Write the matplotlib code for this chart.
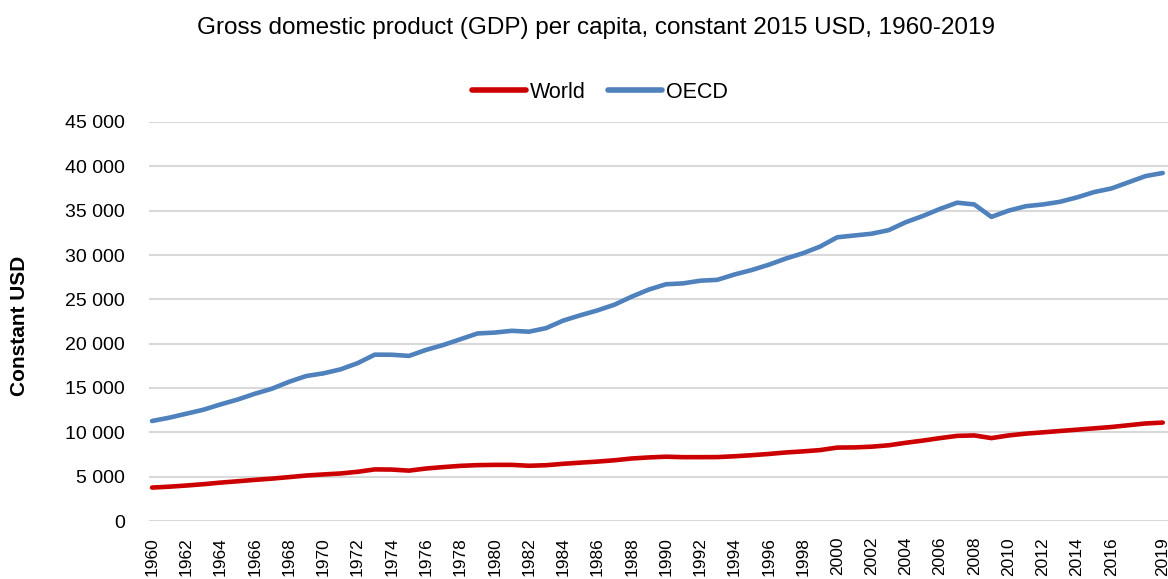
import matplotlib
matplotlib.use("Agg")
import matplotlib.pyplot as plt
from matplotlib.ticker import FuncFormatter

years = list(range(1960, 2020))
world = [3770, 3870, 4000, 4150, 4330, 4480, 4640, 4780, 4950, 5130,
         5250, 5360, 5550, 5820, 5800, 5680, 5920, 6080, 6220, 6300,
         6330, 6330, 6230, 6290, 6450, 6580, 6700, 6850, 7050, 7170,
         7250, 7200, 7200, 7210, 7300, 7420, 7560, 7730, 7850, 8000,
         8280, 8300, 8380, 8540, 8820, 9070, 9350, 9600, 9650, 9350,
         9650, 9850, 10000, 10150, 10300, 10450, 10600, 10800, 11000, 11100]
oecd = [11280, 11650, 12100, 12550, 13150, 13700, 14350, 14920, 15700, 16350,
        16650, 17100, 17800, 18760, 18750, 18620, 19300, 19850, 20500, 21150,
        21250, 21450, 21350, 21750, 22600, 23200, 23750, 24400, 25300, 26100,
        26700, 26800, 27100, 27200, 27800, 28300, 28900, 29600, 30200, 30950,
        32000, 32200, 32400, 32800, 33700, 34400, 35200, 35900, 35700, 34300,
        35000, 35500, 35700, 36000, 36500, 37100, 37500, 38200, 38900, 39250]
tick_years = list(range(1960, 2017, 2)) + [2019]
series_names = ["World", "OECD"]
colors = ["#CC0000", "#4F81BD"]
title = "Gross domestic product (GDP) per capita, constant 2015 USD, 1960-2019"

plt.rcParams['font.family'] = ['Liberation Sans', 'DejaVu Sans']

W, H = 1168, 579
fig = plt.figure(figsize=(W / 100, H / 100), dpi=100)
left_px, right_px, top_px, bottom_px = 148.6, 1173, 122, 521
ax = fig.add_axes([left_px / W, (H - bottom_px) / H,
                   (right_px - left_px) / W, (bottom_px - top_px) / H])

for name, vals, c in zip(series_names, [world, oecd], colors):
    ax.plot(years, vals, color=c, lw=3.3, label=name, solid_capstyle='round',
            solid_joinstyle='round', zorder=3)

ax.set_xlim(1959.8, 2019.6)
ax.set_ylim(0, 45000)
ax.set_yticks(range(0, 45001, 5000))
ax.yaxis.set_major_formatter(FuncFormatter(lambda v, p: f"{int(v):,}".replace(",", " ")))
ax.set_xticks(tick_years)
ax.set_xticklabels([str(y) for y in tick_years], rotation=90)
ax.tick_params(axis='both', length=0, colors='black')
ax.tick_params(axis='y', pad=17, labelsize=14)
ax.tick_params(axis='x', pad=11.5, labelsize=12.5)
for lbl in ax.get_xticklabels():
    lbl.set_va('top')
ax.grid(axis='y', color='#d9d9d9', lw=1.5, zorder=0)
for s in ax.spines.values():
    s.set_visible(False)

fig.text(20 / W, 1 - 326 / H, "Constant USD", rotation=90, ha='center', va='center',
         fontsize=15, fontweight='bold')

fig.text(596 / W, 1 - 28 / H, title, ha='center', va='center', fontsize=17.5)

leg = fig.legend(loc='center', bbox_to_anchor=(600 / W, 1 - 92 / H), ncol=2,
                 frameon=False, fontsize=15.5, handlelength=2.5, handletextpad=0.2,
                 columnspacing=1.0)
for h in leg.get_lines():
    h.set_linewidth(4)

fig.savefig("out.png", dpi=100)
